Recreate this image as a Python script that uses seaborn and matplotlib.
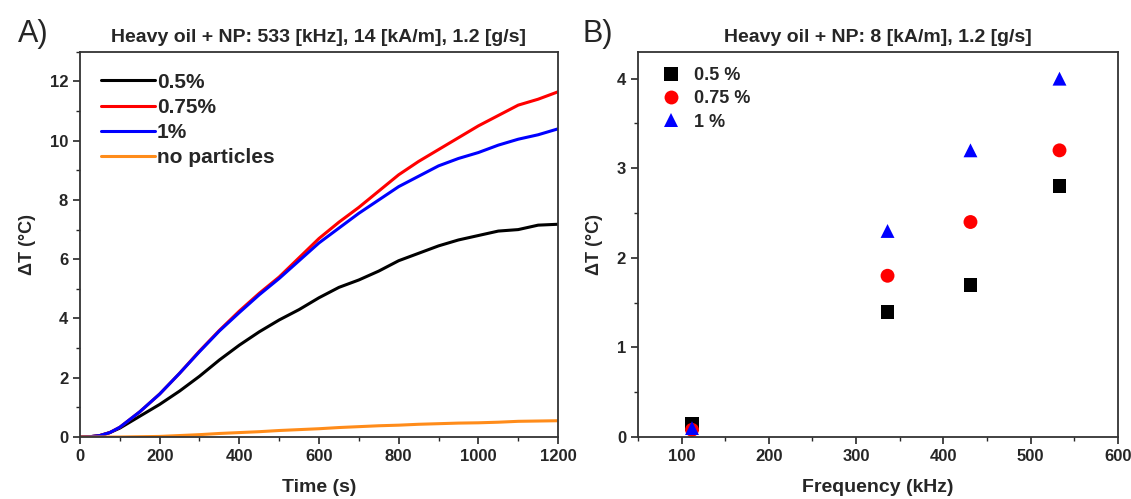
import numpy as np
import pandas as pd
import seaborn as sb
import matplotlib.pyplot as plt
from matplotlib.ticker import MultipleLocator

# panel A: heating curves at 533 kHz
time_s = [0, 25, 50, 75, 100, 150, 200, 250, 300, 350, 400, 450, 500, 550, 600,
          650, 700, 750, 800, 850, 900, 950, 1000, 1050, 1100, 1150, 1200]
dt_05 = [0, 0.01, 0.05, 0.15, 0.3, 0.7, 1.1, 1.55, 2.05, 2.6, 3.1, 3.55, 3.95, 4.3, 4.7,
         5.05, 5.3, 5.6, 5.95, 6.2, 6.45, 6.65, 6.8, 6.95, 7.0, 7.15, 7.18]
dt_075 = [0, 0.01, 0.05, 0.15, 0.33, 0.85, 1.45, 2.15, 2.9, 3.6, 4.25, 4.85, 5.4, 6.05, 6.7,
          7.25, 7.75, 8.3, 8.85, 9.3, 9.7, 10.1, 10.5, 10.85, 11.2, 11.4, 11.65]
dt_1 = [0, 0.01, 0.05, 0.15, 0.33, 0.85, 1.45, 2.15, 2.88, 3.58, 4.2, 4.8, 5.35, 5.95, 6.55,
        7.05, 7.55, 8.0, 8.45, 8.8, 9.15, 9.4, 9.6, 9.85, 10.05, 10.2, 10.4]
dt_none = [0, 0, 0, 0, 0, 0.01, 0.02, 0.05, 0.08, 0.12, 0.15, 0.18, 0.22, 0.25, 0.28,
           0.32, 0.35, 0.38, 0.4, 0.43, 0.45, 0.47, 0.48, 0.5, 0.53, 0.54, 0.55]
curve_labels = ['0.5%', '0.75%', '1%', 'no particles']
curve_colors = ['black', 'red', 'blue', '#ff8c1a']

# panel B: delta T vs frequency at 8 kA/m
freq_khz = [112, 336, 431, 533]
pt_05 = [0.15, 1.4, 1.7, 2.8]
pt_075 = [0.08, 1.8, 2.4, 3.2]
pt_1 = [0.1, 2.3, 3.2, 4.0]
point_labels = ['0.5 %', '0.75 %', '1 %']
point_colors = ['black', 'red', 'blue']
point_markers = ['s', 'o', '^']

sb.set_style('ticks')
plt.rcParams['font.family'] = ['Liberation Sans', 'DejaVu Sans']
plt.rcParams['font.weight'] = 'bold'

curves = pd.concat([
    pd.DataFrame({'Time': time_s, 'dT': vals, 'Sample': lab})
    for vals, lab in zip([dt_05, dt_075, dt_1, dt_none], curve_labels)
])
points = pd.concat([
    pd.DataFrame({'Freq': freq_khz, 'dT': vals, 'Sample': lab})
    for vals, lab in zip([pt_05, pt_075, pt_1], point_labels)
])

fig = plt.figure(figsize=(11.31, 4.99), dpi=100)
ax1 = fig.add_axes([0.0707, 0.1242, 0.4227, 0.772])
ax2 = fig.add_axes([0.564, 0.1242, 0.4245, 0.772])

sb.lineplot(data=curves, x='Time', y='dT', hue='Sample', palette=curve_colors,
            linewidth=2.2, ax=ax1)
ax1.set_xlim(0, 1200)
ax1.set_ylim(0, 13)
ax1.xaxis.set_major_locator(MultipleLocator(200))
ax1.xaxis.set_minor_locator(MultipleLocator(100))
ax1.yaxis.set_major_locator(MultipleLocator(2))
ax1.yaxis.set_minor_locator(MultipleLocator(1))
ax1.set_xlabel('Time (s)', fontsize=14, fontweight='bold', labelpad=11)
ax1.set_ylabel('ΔT (°C)', fontsize=13, fontweight='bold', labelpad=10)
ax1.set_title('Heavy oil + NP: 533 [kHz], 14 [kA/m], 1.2 [g/s]', fontsize=14,
              fontweight='bold', pad=7)
ax1.legend(frameon=False, loc='upper left', handlelength=2.6,
           handletextpad=0.1, labelspacing=0.3, borderaxespad=0.6,
           prop={'weight': 'bold', 'size': 15})

sb.scatterplot(data=points, x='Freq', y='dT', hue='Sample', style='Sample',
               palette=point_colors, markers=point_markers, s=100, linewidth=0, ax=ax2)
ax2.set_xlim(50, 600)
ax2.set_ylim(0, 4.3)
ax2.xaxis.set_major_locator(MultipleLocator(100))
ax2.xaxis.set_minor_locator(MultipleLocator(50))
ax2.yaxis.set_major_locator(MultipleLocator(1))
ax2.yaxis.set_minor_locator(MultipleLocator(0.5))
ax2.set_xlabel('Frequency (kHz)', fontsize=14, fontweight='bold', labelpad=11)
ax2.set_ylabel('ΔT (°C)', fontsize=13, fontweight='bold', labelpad=10)
ax2.set_title('Heavy oil + NP: 8 [kA/m], 1.2 [g/s]', fontsize=14,
              fontweight='bold', pad=7)
ax2.legend(frameon=False, loc='upper left', handletextpad=0.25, labelspacing=0.35,
           borderaxespad=0.45, markerscale=1.0, prop={'weight': 'bold', 'size': 13})

for ax in (ax1, ax2):
    for side in ax.spines.values():
        side.set_linewidth(1.3)
        side.set_color('#333333')
    ax.tick_params(which='major', direction='out', length=5, width=1.2, labelsize=12)
    ax.tick_params(which='minor', direction='out', length=3, width=1.0)
    for lab in ax.get_xticklabels() + ax.get_yticklabels():
        lab.set_fontweight('bold')

fig.text(0.016, 0.915, 'A)', fontsize=22, fontweight='normal')
fig.text(0.515, 0.915, 'B)', fontsize=22, fontweight='normal')

fig.savefig('out.png', dpi=100)
